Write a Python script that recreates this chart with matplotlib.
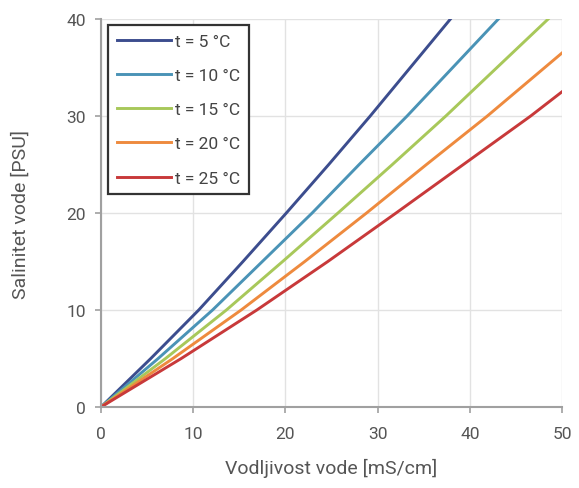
import matplotlib.pyplot as plt

# salinity levels [PSU] and the conductivity [mS/cm] for each
salinity = [0, 5, 10, 15, 20, 25, 30, 40]
cond_t5 = [0, 5.4, 10.6, 15.4, 20.1, 24.7, 29.2, 37.9]
cond_t10 = [0, 6.2, 12.1, 17.5, 22.9, 28.0, 33.2, 43.1]
cond_t15 = [0, 7.0, 13.6, 19.7, 25.7, 31.6, 37.4, 48.5]

salinity_hi = [0, 5, 10, 15, 20, 25, 30, 36.5]
cond_t20 = [0, 7.8, 15.2, 22.1, 28.8, 35.3, 41.9, 50.0]

salinity_red = [0, 5, 10, 15, 20, 25, 30, 32.5]
cond_t25 = [0, 8.7, 16.9, 24.6, 32.0, 39.3, 46.6, 50.0]

labels = ['t = 5 °C', 't = 10 °C', 't = 15 °C', 't = 20 °C', 't = 25 °C']
colors = ['#3c4d8e', '#4a93b6', '#a8c85a', '#ee8a3e', '#c8393a']

plt.rcParams['font.family'] = ['Roboto', 'DejaVu Sans']

fig = plt.figure(figsize=(5.79, 4.89), dpi=100)
ax = fig.add_axes([0.1744, 0.1656, 0.7962, 0.7934])

series = [(cond_t5, salinity), (cond_t10, salinity), (cond_t15, salinity),
          (cond_t20, salinity_hi), (cond_t25, salinity_red)]
for (x, y), lab, c in zip(series, labels, colors):
    ax.plot(x, y, color=c, lw=2.1, label=lab, solid_joinstyle='round')

ax.set_xlim(0, 50)
ax.set_ylim(0, 40)
ax.set_xticks([0, 10, 20, 30, 40, 50])
ax.set_yticks([0, 10, 20, 30, 40])
ax.grid(True, color='#e2e2e2', lw=1)
ax.set_axisbelow(True)

for s in ['top', 'right']:
    ax.spines[s].set_visible(False)
for s in ['left', 'bottom']:
    ax.spines[s].set_color('#a0a0a0')
    ax.spines[s].set_linewidth(1.5)
ax.tick_params(colors='#a0a0a0', labelcolor='#555555', labelsize=12.5,
               length=4, width=1.2)
ax.tick_params(axis='x', pad=10)
ax.tick_params(axis='y', pad=7)

ax.set_xlabel('Vodljivost vode [mS/cm]', fontsize=14, color='#555555', labelpad=12)
ax.set_ylabel('Salinitet vode [PSU]', fontsize=14, color='#555555', labelpad=26)

leg = ax.legend(loc='upper left', bbox_to_anchor=(0.015, 0.985), borderaxespad=0,
                fontsize=12.5, handlelength=3.16, handletextpad=0.23,
                labelspacing=1.1, borderpad=0.5, fancybox=False, framealpha=1,
                labelcolor='#444444')
leg.get_frame().set_edgecolor('#333333')
leg.get_frame().set_linewidth(1.6)

fig.savefig('out.png', dpi=100)
